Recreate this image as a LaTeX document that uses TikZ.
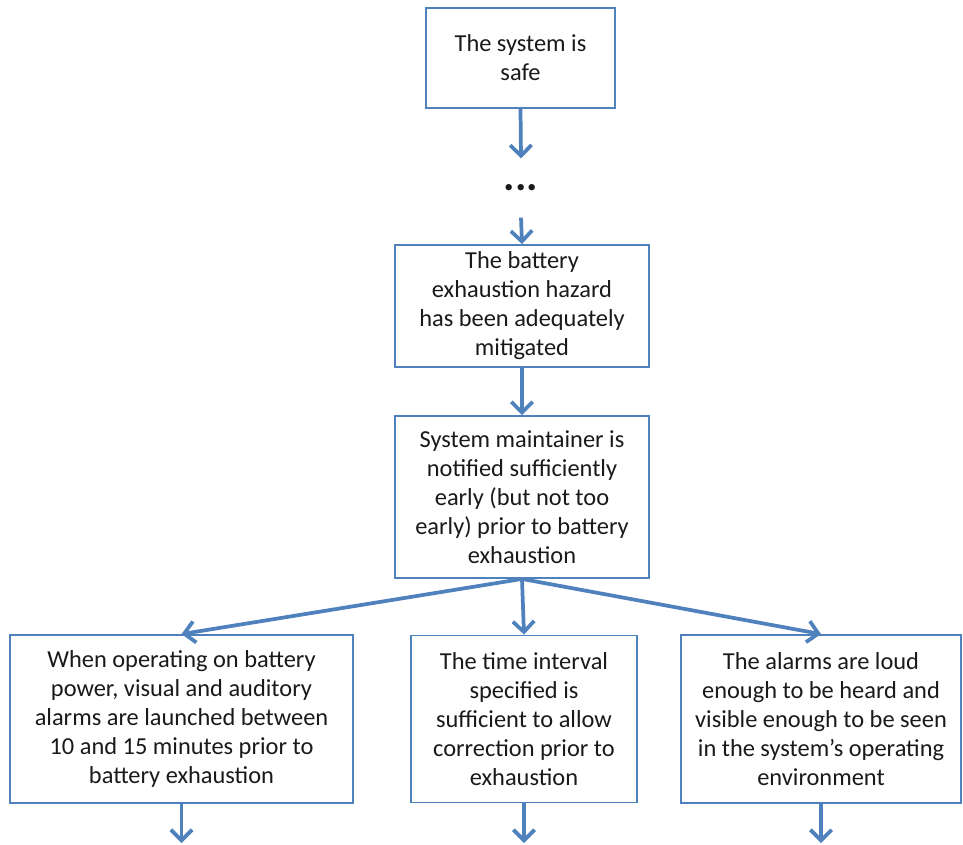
\documentclass[tikz,border=0pt]{standalone}
\usepackage{fontspec}
\setmainfont{Carlito}
\usetikzlibrary{arrows.meta}
\definecolor{boxblue}{HTML}{4F81BD}
\definecolor{inkgray}{HTML}{1A1A1A}
\begin{document}
\begin{tikzpicture}[x=0.75pt, y=-0.75pt,
  claim/.style={draw=boxblue, line width=1.4pt, fill=white, align=center, inner sep=0pt,
    text=inkgray, font=\fontsize{18.3}{21.8}\selectfont},
  arr/.style={draw=boxblue, line width=2.8pt,
    -{Straight Barb[length=8pt, width=16pt, line width=2.8pt]}}]
  \useasboundingbox (0,0) rectangle (963,844);
  % top of the argument
  \node[claim, minimum width=141.75pt, minimum height=75pt] (safe) at (520.5,58) {The system is\\safe};
  \node[inner sep=0pt, minimum height=44pt, text=inkgray, font=\bfseries\fontsize{32}{34}\selectfont] (dots) at (521,188) {...};
  \node[claim, minimum width=190.5pt, minimum height=91.5pt] (hazard) at (522,306) {The battery\\exhaustion hazard\\has been adequately\\mitigated};
  \node[claim, minimum width=190.5pt, minimum height=121.5pt] (notified) at (522,497) {System maintainer is\\notified sufficiently\\early (but not too\\early) prior to battery\\exhaustion};
  % sub-claims
  \node[claim, minimum width=257.25pt, minimum height=126pt] (launch) at (181.5,719) {When operating on battery\\power, visual and auditory\\alarms are launched between\\10 and 15 minutes prior to\\battery exhaustion};
  \node[claim, minimum width=169.5pt, minimum height=125.25pt] (interval) at (524,719) {The time interval\\specified is\\sufficient to allow\\correction prior to\\exhaustion};
  \node[claim, minimum width=210pt, minimum height=126pt] (loud) at (821,719) {The alarms are loud\\enough to be heard and\\visible enough to be seen\\in the system’s operating\\environment};
  \coordinate (launchEnd) at (181.5,843);
  \coordinate (intervalEnd) at (524,843);
  \coordinate (loudEnd) at (821,843);
  % connectors
  \draw[arr] (safe.south) -- (dots.north);
  \draw[arr] (dots.south) -- (hazard.north);
  \draw[arr] (hazard.south) -- (notified.north);
  \draw[arr] (notified.south) -- (launch.north);
  \draw[arr] (notified.south) -- (interval.north);
  \draw[arr] (notified.south) -- (loud.north);
  \draw[arr] (launch.south) -- (launchEnd);
  \draw[arr] (interval.south) -- (intervalEnd);
  \draw[arr] (loud.south) -- (loudEnd);
\end{tikzpicture}
\end{document}
